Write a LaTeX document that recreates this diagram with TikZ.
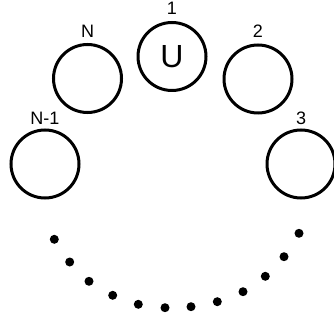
\documentclass[tikz,border=0pt]{standalone}
\usepackage{fontspec}
\setmainfont{Liberation Sans}
\usetikzlibrary{positioning}
\begin{document}
\begin{tikzpicture}[x=1pt,y=-1pt,ring/.style={draw,circle,line width=3pt,minimum size=68pt,inner sep=0pt},ele/.style={fill=black,circle,minimum size=9pt,inner sep=0pt},num/.style={font=\fontsize{18}{18}\selectfont,inner sep=1pt}]
  \useasboundingbox (0,0) rectangle (334,320);
  \node[ring,font=\fontsize{32}{32}\selectfont] (u) at (172,56.5) {U};
  \node[ring] (n) at (87.5,78.5) {};
  \node[ring] (b2) at (258,79) {};
  \node[ring] (nm1) at (45,164) {};
  \node[ring] (b3) at (301,164) {};

  \node[num,above=5.5pt of u] (l1) {1};
  \node[num,above=4.5pt of n] (ln) {N};
  \node[num,above=4.5pt of b2] (l2) {2};
  \node[num,above=2.5pt of nm1] (lnm1) {N-1};
  \node[num,above=3pt of b3] (l3) {3};

  \node[ele] (d1) at (54.3,239.3) {};
  \node[ele] (d2) at (69.7,262) {};
  \node[ele] (d3) at (89,281.3) {};
  \node[ele] (d4) at (112.7,295.3) {};
  \node[ele] (d5) at (138.3,304.3) {};
  \node[ele] (d6) at (165,307.7) {};
  \node[ele] (d7) at (191,306.7) {};
  \node[ele] (d8) at (217.3,301.7) {};
  \node[ele] (d9) at (243,291.7) {};
  \node[ele] (d10) at (265.3,276.3) {};
  \node[ele] (d11) at (284,256.7) {};
  \node[ele] (d12) at (299,233.3) {};
\end{tikzpicture}
\end{document}
